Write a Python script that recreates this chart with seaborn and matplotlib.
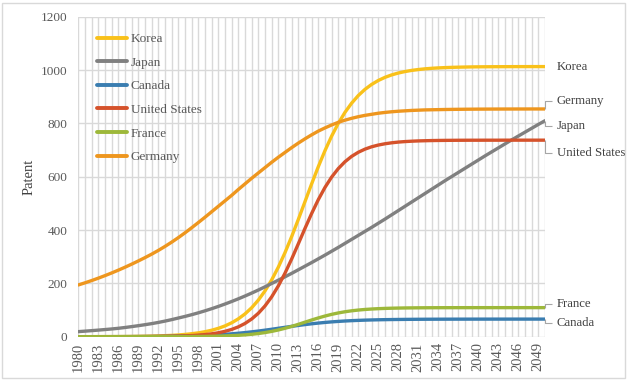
import numpy as np
import pandas as pd
import matplotlib
matplotlib.use("Agg")
import matplotlib.pyplot as plt
from matplotlib.patches import Rectangle
import seaborn as sns

years = list(range(1980, 2051))

korea = [0.1, 0.2, 0.2, 0.3, 0.4, 0.5, 0.6, 0.8, 1.0, 1.4, 1.8, 2.3, 3.0, 3.9, 5.0, 6.5, 8.5, 11.1, 14.4, 18.7,
         24.2, 31.3, 40.4, 52.1, 66.9, 85.4, 108.5, 137.1, 171.6, 212.7, 260.7, 315.1, 375.3, 439.7, 506.5,
         573.3, 637.7, 697.8, 752.3, 800.3, 841.4, 875.9, 904.5, 927.6, 946.1, 960.9, 972.6, 981.7, 988.8,
         994.3, 998.6, 1001.9, 1004.5, 1006.5, 1008.0, 1009.1, 1010.0, 1010.7, 1011.2, 1011.7, 1012.0,
         1012.2, 1012.4, 1012.5, 1012.6, 1012.7, 1012.8, 1012.8, 1012.9, 1012.9, 1012.9]

japan = [19, 20.8, 22.7, 24.7, 26.8, 29, 31.5, 34.5, 37.8, 41.3, 45, 49, 53.5, 58.5, 64, 70, 76, 82.5, 89.5, 97,
         105, 113.5, 122.5, 132, 142, 152.5, 163.5, 175, 187, 199.5, 212, 224.5, 237.5, 251, 264.5, 278,
         292, 306, 320.5, 335, 350, 365, 380, 395, 410, 425.5, 441, 457, 473, 489, 505, 521, 537, 553, 569,
         585, 600.5, 616, 631.5, 647, 662.5, 678, 693, 708, 723, 738, 752.5, 767, 781.5, 796, 810]

canada = [0.08, 0.10, 0.13, 0.16, 0.20, 0.25, 0.31, 0.38, 0.47, 0.59, 0.73, 0.91, 1.13, 1.41, 1.74, 2.16,
          2.67, 3.29, 4.05, 4.97, 6.08, 7.41, 8.99, 10.83, 12.97, 15.42, 18.17, 21.2, 24.49, 27.96, 31.55,
          35.17, 38.75, 42.19, 45.43, 48.41, 51.1, 53.48, 55.56, 57.35, 58.88, 60.16, 61.23, 62.12, 62.85,
          63.45, 63.94, 64.33, 64.65, 64.92, 65.13, 65.30, 65.44, 65.55, 65.64, 65.71, 65.76, 65.81, 65.85,
          65.88, 65.90, 65.92, 65.94, 65.95, 65.96, 65.97, 65.97, 65.98, 65.98, 65.99, 65.99]

united_states = [0.02, 0.03, 0.04, 0.05, 0.07, 0.1, 0.13, 0.18, 0.25, 0.34, 0.47, 0.65, 0.88, 1.21, 1.66,
                 2.27, 3.10, 4.25, 5.81, 7.93, 10.83, 14.77, 20.08, 27.25, 36.83, 49.6, 66.3, 87.8, 115.3,
                 149.3, 190.4, 238.1, 291.3, 348.3, 406.1, 462.1, 514.0, 559.8, 598.7, 630.6, 656.2, 676.3,
                 691.7, 703.4, 712.2, 718.7, 723.5, 727.1, 729.8, 731.7, 733.1, 734.2, 734.9, 735.5, 735.9,
                 736.2, 736.4, 736.6, 736.7, 736.8, 736.8, 736.9, 736.9, 736.9, 737, 737, 737, 737, 737, 737, 737]

france = [0.0, 0.01, 0.01, 0.01, 0.01, 0.02, 0.02, 0.03, 0.04, 0.06, 0.08, 0.11, 0.15, 0.2, 0.27, 0.36, 0.49,
          0.66, 0.89, 1.2, 1.61, 2.16, 2.9, 3.88, 5.17, 6.86, 9.06, 11.89, 15.46, 19.88, 25.23, 31.5, 38.62,
          46.38, 54.5, 62.61, 70.38, 77.49, 83.77, 89.12, 93.54, 97.11, 99.94, 102.13, 103.83, 105.12, 106.1,
          106.84, 107.39, 107.8, 108.1, 108.34, 108.51, 108.64, 108.73, 108.8, 108.85, 108.89, 108.92,
          108.94, 108.95, 108.96, 108.97, 108.98, 108.98, 108.99, 108.99, 108.99, 109, 109, 109]

germany = [194, 202, 210.5, 219.5, 229, 239, 249.5, 260.5, 272, 284, 296.5, 309.5, 323.5, 338.5, 354.5, 371.5,
           389.5, 408.5, 428, 448, 468.5, 489, 509.5, 530, 552, 573, 594, 614, 634, 654, 673, 691, 709, 726,
           742, 757, 771, 783, 794, 804, 812, 819, 825, 830, 834, 838, 841, 843.5, 845.5, 847, 848.5, 849.5,
           850.5, 851, 851.5, 852, 852.4, 852.7, 853, 853.2, 853.4, 853.5, 853.6, 853.7, 853.8, 853.8, 853.9,
           853.9, 854, 854, 854]

countries = ["Korea", "Japan", "Canada", "United States", "France", "Germany"]
series = [korea, japan, canada, united_states, france, germany]
yticks = [0, 200, 400, 600, 800, 1000, 1200]
xtick_labels = [str(y) if (y - 1980) % 3 == 0 else "" for y in years]

colors = {"Korea": "#F9C11A", "Japan": "#808080", "Canada": "#3A7DB0",
          "United States": "#D5522B", "France": "#9DB83A", "Germany": "#EE961E"}

# right-side label positions (layout only)
label_y = {"Korea": None, "Germany": 885, "Japan": 790, "United States": 690,
           "France": 121, "Canada": 50}

rows = []
for c, vals in zip(countries, series):
    assert len(vals) == len(years), c
    for y, v in zip(years, vals):
        rows.append({"Year": y, "Patent": v, "Country": c})
df = pd.DataFrame(rows)

sns.set_style("white")
plt.rcParams["font.family"] = ["Liberation Serif", "DejaVu Serif"]

fig = plt.figure(figsize=(6.28, 3.81), dpi=100)
ax = fig.add_axes([78.3 / 628, 1 - 336.7 / 381, (545 - 78.3) / 628, 320 / 381])

sns.lineplot(data=df, x="Year", y="Patent", hue="Country", hue_order=countries,
             palette=colors, linewidth=2.4, ax=ax, legend=True)

ax.set_xlim(1980, 2050)
ax.set_ylim(0, 1200)
ax.set_yticks(yticks)
ax.set_xticks(years)
ax.set_xticklabels(xtick_labels, rotation=90, fontsize=10.5, color="#595959")
ax.tick_params(axis="y", labelsize=9.5, labelcolor="#595959", length=0, pad=8)
ax.tick_params(axis="x", length=0, pad=4)
ax.grid(True, color="#d9d9d9", linewidth=1.0)
ax.set_axisbelow(True)
for s in ax.spines.values():
    s.set_visible(False)
ax.set_xlabel("")
ax.set_ylabel("Patent", fontsize=10.5, color="#404040")
ax.yaxis.set_label_coords(-0.092, 0.5)

handles, labels = ax.get_legend_handles_labels()
leg = ax.legend(handles, labels, loc="upper left", bbox_to_anchor=(0.04, 0.949),
                frameon=False, fontsize=9.5, handlelength=2.3, handletextpad=0.25,
                labelspacing=0.86, borderpad=0, borderaxespad=0)
for t in leg.get_texts():
    t.set_color("#595959")
for h in leg.get_lines():
    h.set_linewidth(2.8)

# end labels with leader lines
end_vals = {c: vals[-1] for c, vals in zip(countries, series)}
xend = years[-1]
for c in countries:
    ly = label_y[c]
    if ly is None:
        ax.text(xend + 1.75, end_vals[c], c, fontsize=9.2, color="#404040",
                va="center", ha="left", clip_on=False)
    else:
        ax.plot([xend, xend, xend + 1.0], [end_vals[c], ly, ly], color="#a6a6a6",
                linewidth=0.8, clip_on=False, solid_capstyle="butt")
        ax.text(xend + 1.75, ly, c, fontsize=9.2, color="#404040",
                va="center", ha="left", clip_on=False)

fig.patches.append(Rectangle((2 / 628, 3 / 381), 623 / 628, 375 / 381, transform=fig.transFigure,
                             fill=False, edgecolor="#d9d9d9", linewidth=1.0))

fig.savefig("out.png", dpi=100)
